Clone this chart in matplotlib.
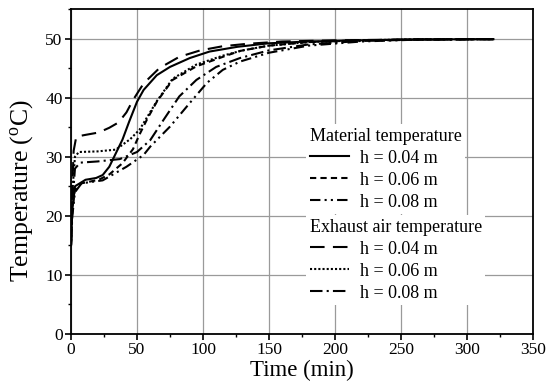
import matplotlib
matplotlib.use("Agg")
import matplotlib.pyplot as plt
from matplotlib.ticker import MultipleLocator

plt.rcParams['font.family'] = ['Liberation Serif', 'DejaVu Serif']
plt.rcParams['mathtext.fontset'] = 'custom'
plt.rcParams['mathtext.rm'] = 'Liberation Serif'

# Material temperature
mat04_t = [0, 1, 3, 11, 19, 24, 29, 34, 39, 44, 50, 55, 65, 75, 90, 105, 126, 150, 180, 220, 260, 320]
mat04_T = [15, 21, 25, 26.1, 26.4, 26.9, 28.3, 30.6, 32.9, 35.9, 39.3, 41.3, 43.8, 45.2, 46.7, 47.8, 48.6, 49.2, 49.5, 49.7, 49.85, 49.9]

mat06_t = [0, 1, 3, 8, 21, 29, 39, 47, 52, 58, 65, 77, 95, 115, 128, 150, 180, 220, 260, 320]
mat06_T = [15, 21, 24.5, 25.5, 26.1, 27, 28.9, 31.3, 33.8, 36.5, 39.3, 43, 45.3, 46.9, 47.9, 48.8, 49.4, 49.7, 49.85, 49.9]

mat08_t = [0, 1, 3, 8, 24, 42, 55, 60, 75, 90, 103, 115, 128, 150, 180, 220, 260, 320]
mat08_T = [15, 20, 24, 25.5, 26, 28.3, 30.3, 31.7, 35.1, 39.1, 42.5, 44.7, 46.1, 47.6, 48.8, 49.5, 49.8, 49.9]

# Exhaust air temperature
exh04_t = [0, 1, 2, 4, 11, 21, 29, 36, 42, 47, 55, 67, 82, 98, 115, 133, 160, 200, 260, 320]
exh04_T = [15, 25, 31, 33.4, 33.7, 34.1, 34.9, 35.8, 37.5, 39.6, 42.4, 45, 46.9, 48, 48.7, 49.1, 49.5, 49.7, 49.85, 49.9]

exh06_t = [0, 1, 3, 6, 20, 34, 45, 52, 65, 77, 95, 115, 130, 150, 180, 220, 260, 320]
exh06_T = [15, 24, 30, 30.8, 30.9, 31.2, 33.0, 34.6, 39.4, 43.2, 45.6, 47.1, 48.0, 48.8, 49.4, 49.7, 49.85, 49.9]

exh08_t = [0, 1, 3, 7, 20, 37, 50, 60, 70, 82, 95, 110, 128, 150, 180, 220, 260, 320]
exh08_T = [15, 22, 28, 29, 29.2, 29.6, 30.8, 32.8, 36.2, 40.2, 43, 45.2, 46.7, 48, 49, 49.6, 49.8, 49.9]

labels = ['h = 0.04 m', 'h = 0.06 m', 'h = 0.08 m']

fig = plt.figure(figsize=(5.52, 3.84), dpi=100)
ax = fig.add_axes([71/552, 1-334/384, 462/552, 325/384])

lw = 1.5
styles_mat = ['-', (0, (3, 2)), (0, (5, 2, 1, 2, 1, 2))]
styles_exh = [(0, (7, 4)), (0, (1, 1)), (0, (6, 2, 1, 2))]

mat_lines = []
for t, T, ls in zip([mat04_t, mat06_t, mat08_t], [mat04_T, mat06_T, mat08_T], styles_mat):
    l, = ax.plot(t, T, color='black', lw=lw, linestyle=ls)
    mat_lines.append(l)
exh_lines = []
for t, T, ls in zip([exh04_t, exh06_t, exh08_t], [exh04_T, exh06_T, exh08_T], styles_exh):
    l, = ax.plot(t, T, color='black', lw=lw, linestyle=ls)
    exh_lines.append(l)

ax.set_xlim(0, 350)
ax.set_ylim(0, 55)
ax.xaxis.set_major_locator(MultipleLocator(50))
ax.xaxis.set_minor_locator(MultipleLocator(25))
ax.yaxis.set_major_locator(MultipleLocator(10))
ax.yaxis.set_minor_locator(MultipleLocator(5))
ax.grid(True, which='major', color='#9a9a9a', lw=0.9)
ax.set_axisbelow(True)
ax.tick_params(which='major', direction='out', length=4, width=1.2, labelsize=12.5, pad=2)
ax.tick_params(which='minor', direction='out', length=2.5, width=1.0)
for s in ax.spines.values():
    s.set_linewidth(1.3)

ax.set_xlabel('Time (min)', fontsize=16.5, labelpad=1)
ax.set_ylabel(r'Temperature ($\mathregular{^{o}}$C)', fontsize=18.5)
ax.yaxis.set_label_coords(-0.077, 0.44)

legkw = dict(frameon=True, fancybox=False, edgecolor='none', facecolor='white', framealpha=1,
             fontsize=13, title_fontsize=13, alignment='left', handlelength=2.2,
             handletextpad=0.6, labelspacing=0.28, borderpad=0.2, borderaxespad=0)
leg1 = ax.legend(mat_lines, labels, title='Material temperature', loc='upper left',
                 bbox_to_anchor=((306-71)/462, (334-124)/325), **legkw)
ax.add_artist(leg1)
leg2 = ax.legend(exh_lines, labels, title='Exhaust air temperature', loc='upper left',
                 bbox_to_anchor=((306-71)/462, (334-215)/325), **legkw)

fig.savefig('out.png', dpi=100)
